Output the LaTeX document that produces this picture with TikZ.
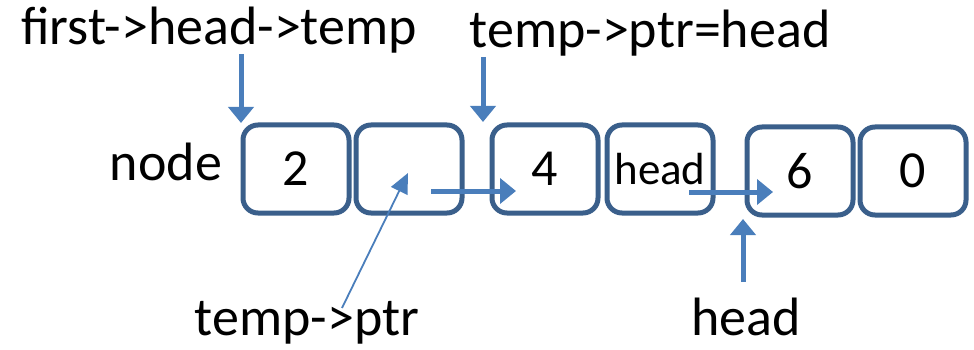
\documentclass[tikz,border=0pt]{standalone}
\usepackage{fontspec}
\setmainfont{Carlito}
\usepackage{xcolor}
\usepackage{tikz}
\usetikzlibrary{arrows.meta}
\definecolor{boxblue}{HTML}{3A5F8B}
\definecolor{arrowblue}{HTML}{4A7EBB}

\begin{document}
\begin{tikzpicture}[x=1pt, y=-1pt,
    every node/.style={font=\fontsize{54}{60}\selectfont, inner sep=0pt},
    cell/.style={draw=boxblue, line width=5pt, rounded corners=15pt, minimum width=106pt, minimum height=88pt, font=\fontsize{52}{60}\selectfont},
    ptr/.style={draw=arrowblue, line width=5pt, -{Triangle[width=25pt,length=16pt]}},
    thinptr/.style={draw=arrowblue, line width=1.8pt, -{Triangle[width=18pt,length=20pt]}}]
    \useasboundingbox (0,0) rectangle (974,350);
    % list cells
    \foreach \i/\x/\y/\t in {1/296/169/2, 2/409/169/{}, 3/545/169/4, 4/660/169/{\fontsize{45}{50}\selectfont head}, 5/800/171/6, 6/913/171/0}
        \node[cell] (b\i) at (\x,\y) {\t};
    % labels
    \node[anchor=base] (first) at (219,45) {first->head->temp};
    \node[anchor=base] (assign) at (650,48) {temp->ptr=head};
    \node[anchor=base] (lbl) at (166,180) {node};
    \node[anchor=base] (tp) at (307,335) {temp->ptr};
    \node[anchor=base] (hd) at (746,335) {head};
    % arrow ends
    \coordinate (t1) at (241,123);
    \coordinate (t3) at (483,122);
    \coordinate (n2) at (431,191);
    \coordinate (n3) at (516,191);
    \coordinate (n4) at (689,192);
    \coordinate (n5) at (773,192);
    \coordinate (h5) at (743,282);
    \coordinate (t5) at (743,219);
    \coordinate (p0) at (342,308);
    \coordinate (p2) at (408,173);
    % arrows
    \draw[ptr] (t1 |- first.south) -- (t1);
    \draw[ptr] (t3 |- assign.south) -- (t3);
    \draw[ptr] (n2) -- (n3);
    \draw[ptr] (n4) -- (n5);
    \draw[ptr] (h5) -- (t5);
    \draw[thinptr] (p0) -- (p2);
\end{tikzpicture}
\end{document}
